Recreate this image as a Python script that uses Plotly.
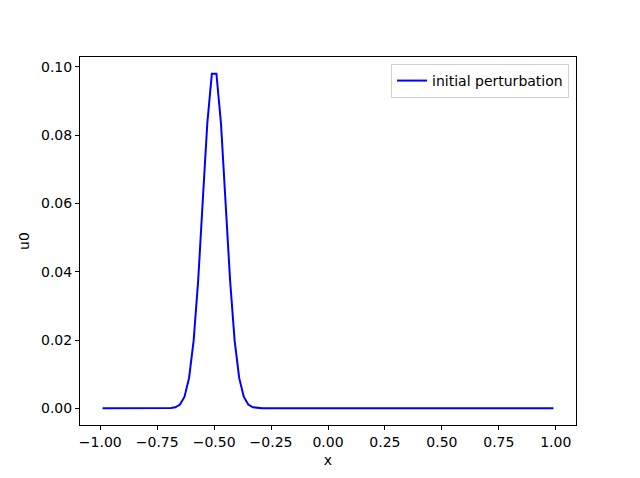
import plotly.graph_objects as go

# cell centres on [-1, 1]
x = [
    -0.99, -0.97, -0.95, -0.93, -0.91, -0.89, -0.87, -0.85, -0.83, -0.81,
    -0.79, -0.77, -0.75, -0.73, -0.71, -0.69, -0.67, -0.65, -0.63, -0.61,
    -0.59, -0.57, -0.55, -0.53, -0.51, -0.49, -0.47, -0.45, -0.43, -0.41,
    -0.39, -0.37, -0.35, -0.33, -0.31, -0.29, -0.27, -0.25, -0.23, -0.21,
    -0.19, -0.17, -0.15, -0.13, -0.11, -0.09, -0.07, -0.05, -0.03, -0.01,
    0.01, 0.03, 0.05, 0.07, 0.09, 0.11, 0.13, 0.15, 0.17, 0.19,
    0.21, 0.23, 0.25, 0.27, 0.29, 0.31, 0.33, 0.35, 0.37, 0.39,
    0.41, 0.43, 0.45, 0.47, 0.49, 0.51, 0.53, 0.55, 0.57, 0.59,
    0.61, 0.63, 0.65, 0.67, 0.69, 0.71, 0.73, 0.75, 0.77, 0.79,
    0.81, 0.83, 0.85, 0.87, 0.89, 0.91, 0.93, 0.95, 0.97, 0.99,
]

u0 = [
    0.0, 0.0, 0.0, 0.0, 0.0, 0.0, 0.0, 0.0, 0.0, 0.0,
    0.0, 0.0, 0.0, 0.0, 0.0, 0.0001, 0.0003, 0.0011, 0.0034, 0.0089,
    0.0198, 0.0375, 0.0607, 0.0835, 0.0980, 0.0980, 0.0835, 0.0607, 0.0375, 0.0198,
    0.0089, 0.0034, 0.0011, 0.0003, 0.0001, 0.0, 0.0, 0.0, 0.0, 0.0,
    0.0, 0.0, 0.0, 0.0, 0.0, 0.0, 0.0, 0.0, 0.0, 0.0,
    0.0, 0.0, 0.0, 0.0, 0.0, 0.0, 0.0, 0.0, 0.0, 0.0,
    0.0, 0.0, 0.0, 0.0, 0.0, 0.0, 0.0, 0.0, 0.0, 0.0,
    0.0, 0.0, 0.0, 0.0, 0.0, 0.0, 0.0, 0.0, 0.0, 0.0,
    0.0, 0.0, 0.0, 0.0, 0.0, 0.0, 0.0, 0.0, 0.0, 0.0,
    0.0, 0.0, 0.0, 0.0, 0.0, 0.0, 0.0, 0.0, 0.0, 0.0,
]

x_ticks = [-1.0, -0.75, -0.5, -0.25, 0.0, 0.25, 0.5, 0.75, 1.0]
y_ticks = [0.0, 0.02, 0.04, 0.06, 0.08, 0.10]

fig = go.Figure()
fig.add_trace(
    go.Scatter(
        x=x,
        y=u0,
        mode="lines",
        name="initial perturbation",
        line=dict(color="blue", width=2),
    )
)

axis_style = dict(
    showgrid=False,
    zeroline=False,
    showline=True,
    mirror=True,
    linecolor="black",
    linewidth=1,
    ticks="outside",
    ticklen=4,
    tickwidth=1,
    tickcolor="black",
    tickformat=".2f",
    tickfont=dict(size=14, color="black"),
    title_font=dict(size=14, color="black"),
)

# the page body adds an 8px offset, so the figure is a bit smaller than the window
fig.update_layout(
    width=632,
    height=470,
    plot_bgcolor="white",
    paper_bgcolor="white",
    font=dict(family="DejaVu Sans", size=14, color="black"),
    margin=dict(l=72, r=64, t=49, b=51),
    showlegend=True,
    legend=dict(
        x=0.986,
        y=0.981,
        xanchor="right",
        yanchor="top",
        bgcolor="white",
        bordercolor="#d0d0d0",
        borderwidth=1,
        font=dict(size=14),
    ),
)
fig.update_xaxes(axis_style, range=[-1.089, 1.089], tickvals=x_ticks, title_text="x", title_standoff=6)
fig.update_yaxes(axis_style, range=[-0.0049, 0.1029], tickvals=y_ticks, title_text="u0", title_standoff=8)

fig.write_html("out.html")
